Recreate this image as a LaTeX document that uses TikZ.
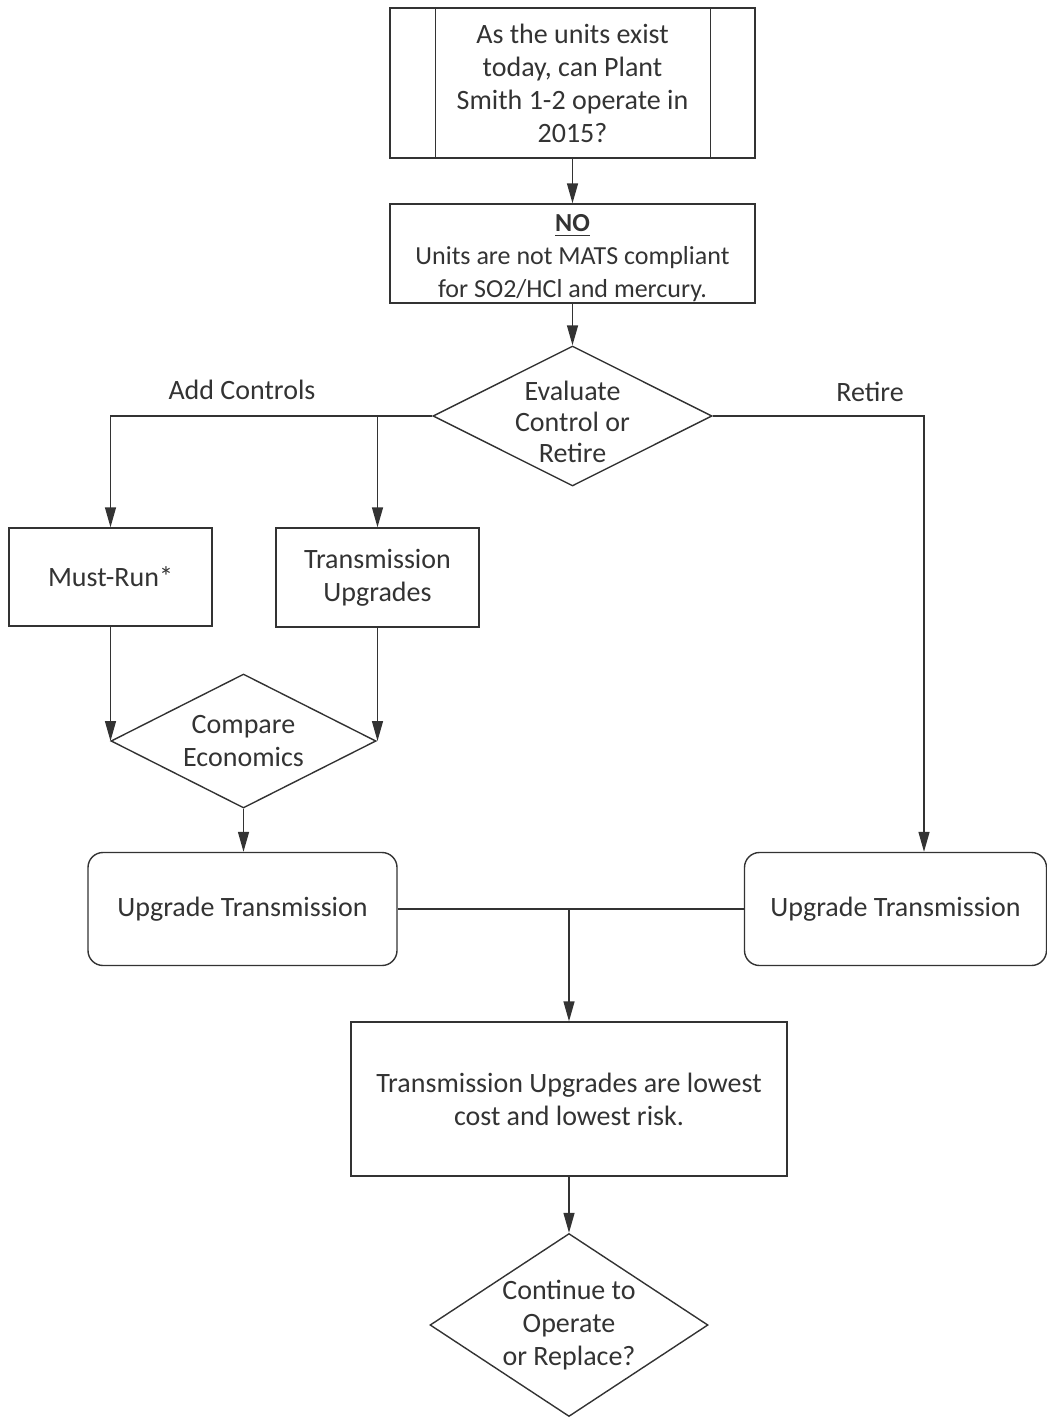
\documentclass[tikz,border=0pt]{standalone}
\usepackage{fontspec}
\setmainfont{Carlito}
\usetikzlibrary{shapes.geometric,arrows.meta}

\begin{document}
\begin{tikzpicture}[
    x=0.5pt, y=-0.5pt,
    font=\fontsize{14}{16.5}\selectfont,
    every node/.style={text=black!80},
    line/.style={draw=black!80, line width=0.7pt},
    arr/.style={line, -{Triangle[length=10pt,width=5.5pt]}},
    box/.style={line, rectangle, align=center, inner sep=0pt},
    rbox/.style={box, rounded corners=7.5pt},
    dia/.style={line, diamond, inner sep=0pt},
    txt/.style={align=center, inner sep=0pt},
  ]
  \useasboundingbox (0,0) rectangle (1047,1418);

  % question box with side bars
  \node[box, minimum width=182.5pt, minimum height=75pt] (ask) at (572.5,83)
    {As the units exist\\today, can Plant\\Smith 1-2 operate in\\2015?};
  \draw[line] ([xshift=23pt]ask.north west) -- ([xshift=23pt]ask.south west);
  \draw[line] ([xshift=-22.5pt]ask.north east) -- ([xshift=-22.5pt]ask.south east);

  \node[box, minimum width=182.5pt, minimum height=49.5pt] (no) at (572.5,253.5) {};
  \node[txt, font=\fontsize{13}{16.5}\selectfont] at ([yshift=-2.5pt]no)
    {\underline{\textbf{NO}}\\Units are not MATS compliant\\for SO2/HCl and mercury.};

  \node[dia, minimum width=139.5pt, minimum height=70pt] (eval) at (572.5,416) {};
  \node[txt, font=\fontsize{14}{15.5}\selectfont] at ([yshift=-3pt]eval)
    {Evaluate\\Control or\\Retire};

  \node[box, minimum width=101.5pt, minimum height=49pt] (must) at (110.5,577) {Must-Run*};
  \node[box, minimum width=101.5pt, minimum height=49.5pt] (tu) at (377.5,577.5)
    {Transmission\\Upgrades};

  \node[dia, minimum width=132.5pt, minimum height=67pt] (cmp) at (243.5,741) {};
  \node[txt] at (cmp) {Compare\\Economics};

  \node[rbox, minimum width=154.5pt, minimum height=56.5pt] (utl) at (242.5,909)
    {Upgrade Transmission};
  \node[rbox, minimum width=151pt, minimum height=56.5pt] (utr) at (895.5,909)
    {Upgrade Transmission};
  \coordinate (drop) at (924,416);

  \node[box, minimum width=218pt, minimum height=77pt] (fin) at (569,1099)
    {Transmission Upgrades are lowest\\cost and lowest risk.};

  \node[dia, minimum width=139pt, minimum height=91.5pt] (cont) at (569,1325) {};
  \node[txt] at (cont) {Continue to\\Operate\\or Replace?};

  % connectors
  \draw[arr] (ask) -- (no);
  \draw[arr] (no) -- (eval);
  \draw[arr] (eval.west) -| (must.north);
  \draw[arr] (tu.north |- eval.west) -- (tu.north);
  \draw[arr] (eval.east) -- (drop) -- (drop |- utr.north);
  \draw[arr] (must.south) -- (must.south |- cmp.west);
  \draw[arr] (tu.south) -- (tu.south |- cmp.east);
  \draw[arr] (cmp.south) -- (cmp.south |- utl.north);
  \draw[line] (utl.east) -- (utr.west);
  \draw[arr] (fin.north |- utl.east) -- (fin.north);
  \draw[arr] (fin) -- (cont);

  \node at (242,390) {Add Controls};
  \node at (870,392) {Retire};
\end{tikzpicture}
\end{document}
